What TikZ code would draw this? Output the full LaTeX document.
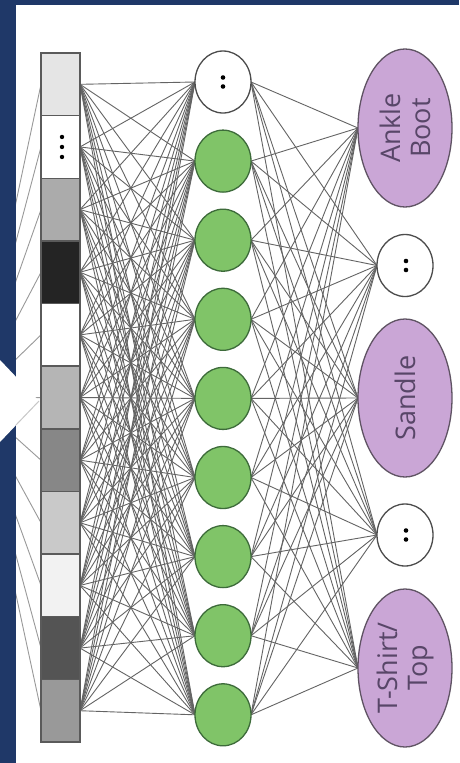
\documentclass[tikz,border=0pt]{standalone}
\usepackage{fontspec}
\setmainfont{Open Sans}
\usetikzlibrary{shapes.geometric}

\definecolor{navy}{RGB}{31,56,104}
\definecolor{cellline}{RGB}{90,90,90}
\definecolor{leaf}{RGB}{128,196,104}
\definecolor{leafline}{RGB}{61,107,58}
\definecolor{lilac}{RGB}{202,166,214}
\definecolor{lilacline}{RGB}{95,83,99}
\definecolor{labeltext}{RGB}{88,70,104}
\definecolor{wire}{RGB}{100,100,100}

\pgfdeclarelayer{paper}
\pgfdeclarelayer{links}
\pgfdeclarelayer{frame}
\pgfsetlayers{paper,links,main,frame}

\tikzset{
  cell/.style={draw=cellline, line width=1.4pt, minimum width=39pt,
    minimum height=62.6pt, inner sep=0pt, outer sep=0pt},
  hid/.style={ellipse, draw=leafline, line width=1.3pt, fill=leaf,
    minimum width=56pt, minimum height=62pt, inner sep=0pt, outer sep=0pt},
  gap/.style={hid, draw=black!70, fill=white},
  outcls/.style={ellipse, draw=lilacline, line width=1.3pt, fill=lilac,
    minimum width=94pt, minimum height=158pt, inner sep=0pt, outer sep=0pt},
  lbl/.style={rotate=90, text=labeltext, align=center,
    font=\fontsize{27}{30}\selectfont, inner sep=0pt},
  link/.style={draw=wire, line width=0.9pt},
  feed/.style={draw=black!40, line width=0.9pt},
}

\begin{document}
\begin{tikzpicture}[x=1pt,y=-1pt]
\useasboundingbox (0,0) rectangle (459,763);
\begin{pgfonlayer}{paper}
  \fill[white] (0,0) rectangle (459,763);
\end{pgfonlayer}

% flattened pixel vector
\foreach \i/\shade in {1/black!10,2/white,3/black!33,4/black!86,5/white,
    6/black!29,7/black!47,8/black!21,9/black!5,10/black!67,11/black!40}{
  \node[cell, fill=\shade] (c\i) at (60.5,{53+62.64*(\i-0.5)}) {};
}
\foreach \k in {-1,0,1}{
  \fill (c2.center) ++(1.5,{10*\k}) circle (2.2pt);
}

% hidden layer
\node[gap] (h1) at (223,82) {};
\foreach \k in {-1,1}{\fill (h1.center) ++(0,{4.5*\k}) circle (2.3pt);}
\foreach \i in {2,...,9}{
  \node[hid] (h\i) at (223,{82+79.1*(\i-1)}) {};
}

% output classes
\node[outcls] (o1) at (405,128) {};
\node[lbl] (t1) at (o1.center) {Ankle\\Boot};
\node[gap] (o2) at (405,265.5) {};
\node[outcls] (o3) at (405,398) {};
\node[lbl] (t3) at (o3.center) {Sandle};
\node[gap] (o4) at (405,535) {};
\node[outcls] (o5) at (405,668) {};
\node[lbl] (t5) at (o5.center) {T-Shirt/\\Top};
\foreach \n in {o2,o4}{
  \foreach \k in {-1,1}{\fill (\n.center) ++(1,{4.5*\k}) circle (2.3pt);}
}

\coordinate (src) at (-26,400);

\begin{pgfonlayer}{links}
  \foreach \i in {1,...,11}{
    \draw[feed] (c\i.west) -- (src);
    \foreach \j in {1,...,9}{
      \draw[link] (c\i.east) -- (h\j.west);
    }
  }
  \foreach \i in {1,...,9}{
    \foreach \j in {1,...,5}{
      \draw[link] (h\i.east) -- (o\j.west);
    }
  }
\end{pgfonlayer}

% slide frame and pointer
\begin{pgfonlayer}{frame}
  \fill[navy] (0,0) rectangle (16,763);
  \fill[navy] (0,0) rectangle (459,5);
  \fill[white] (0,360) -- (39,401) -- (0,442) -- cycle;
  \draw[black!22, line width=1pt] (39,401) -- (16,425);
\end{pgfonlayer}
\end{tikzpicture}
\end{document}
